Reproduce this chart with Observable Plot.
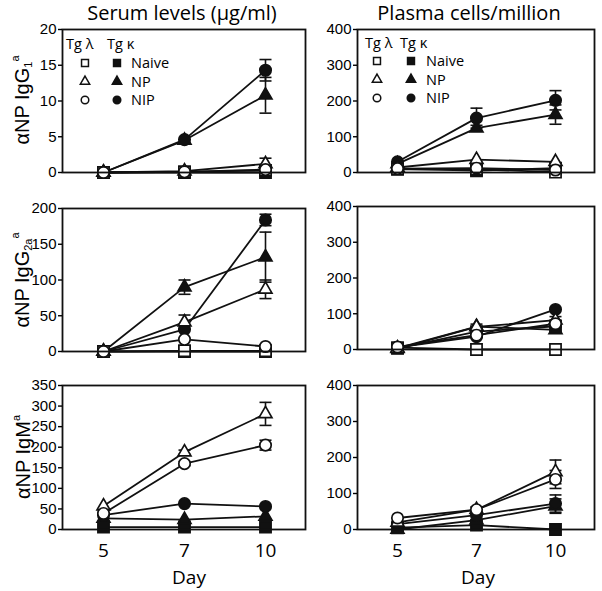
<!DOCTYPE html>
<html><head><meta charset="utf-8">
<script src="https://cdn.jsdelivr.net/npm/d3@7"></script>
<script src="https://cdn.jsdelivr.net/npm/@observablehq/plot@0.6"></script>
<style>
body{margin:0;background:#fff;}
#fig{position:relative;width:602px;height:591px;overflow:hidden;font-family:"Open Sans",sans-serif;color:#000;}
#fig svg{overflow:visible;}
.abs{position:absolute;white-space:nowrap;line-height:1;}
.c{transform:translate(-50%,-50%);}
.lv{transform:translateY(-50%);}
.rot{transform:translate(-50%,-50%) rotate(-90deg);font-family:"Liberation Sans",Arial,sans-serif;font-size:20px;}
.rot sub{font-size:11px;vertical-align:-3px;}
.rot sup{font-size:11px;vertical-align:10px;}
</style></head><body><div id="fig"></div>
<script>
// ---- data ----
const days = [5, 7, 10];
const groups = ["Tg λ Naive", "Tg λ NP", "Tg λ NIP", "Tg κ Naive", "Tg κ NP", "Tg κ NIP"];
const groupSymbol = ["square", "triangle", "circle", "square", "triangle", "circle"];
const groupFill = ["white", "white", "white", "#111", "#111", "#111"];
const strains = ["Tg λ", "Tg κ"];
const immunizations = ["Naive", "NP", "NIP"];

// values per group (rows in groups order), columns = days
const serumIgG1 = [[0, 0.1, 0.3], [0, 0.2, 1.2], [0, 0.1, 0.4], [0, 0, 0], [0, 4.5, 10.8], [0, 4.6, 14.3]];
const serumIgG1Err = [[0, 0, 0], [0, 0, 0.8], [0, 0, 0], [0, 0, 0], [0, 0, 2.5], [0, 0, 1.5]];
const plasmaIgG1 = [[9, 9, 1], [14, 36, 30], [11, 12, 7], [10, 5, 12], [24, 124, 162], [30, 152, 202]];
const plasmaIgG1Err = [[0, 0, 0], [0, 0, 0], [0, 0, 0], [0, 0, 0], [0, 8, 27], [0, 28, 27]];
const serumIgG2a = [[0, 1, 1], [0, 41, 87], [0, 17, 7], [0, 0, 0], [0, 90, 132], [0, 31, 184]];
const serumIgG2aErr = [[0, 0, 0], [0, 10, 13], [0, 0, 0], [0, 0, 0], [0, 10, 35], [0, 0, 8]];
const plasmaIgG2a = [[5, 0, 0], [2, 63, 82], [7, 40, 72], [3, 50, 65], [4, 64, 55], [6, 36, 112]];
const plasmaIgG2aErr = [[0, 0, 0], [0, 8, 10], [0, 0, 10], [0, 0, 0], [0, 0, 8], [0, 0, 0]];
const serumIgM = [[null, null, null], [57, 188, 281], [39, 160, 205], [6, 6, 6], [27, 24, 32], [35, 63, 56]];
const serumIgMErr = [[0, 0, 0], [0, 5, 28], [0, 5, 12], [0, 0, 0], [0, 0, 0], [0, 0, 0]];
const plasmaIgM = [[null, null, null], [20, 55, 160], [32, 55, 139], [5, 12, 0], [0, 26, 65], [15, 40, 72]];
const plasmaIgMErr = [[0, 0, 0], [0, 8, 33], [0, 6, 25], [0, 0, 0], [0, 0, 20], [0, 0, 24]];

const ticks20 = [0, 5, 10, 15, 20];
const ticks200 = [0, 50, 100, 150, 200];
const ticks350 = [0, 50, 100, 150, 200, 250, 300, 350];
const ticks400 = [0, 100, 200, 300, 400];

const titles = ["Serum levels (µg/ml)", "Plasma cells/million"];
const xLabel = "Day";

// ---- drawing ----
const fig = document.getElementById("fig");
const capSymbol = {draw(ctx) { ctx.moveTo(-6, 0); ctx.lineTo(6, 0); }};
const symR = {square: 6.3, triangle: 4.8, circle: 5.7};

function panel({vals, errs, yMax, ticks, fx, fy, fw, fh, xAxis}) {
  const mL = 40, mR = 4, mT = 8, mB = xAxis ? 45 : 8;
  const rows = [];
  groups.forEach((g, i) => days.forEach((d, j) => {
    if (vals[i][j] != null) rows.push({g: i, day: d, v: vals[i][j], e: errs[i][j]});
  }));
  const marks = [];
  groups.forEach((g, i) => marks.push(Plot.line(rows.filter(r => r.g === i), {x: "day", y: "v", stroke: "#111", strokeWidth: 1.8})));
  const er = rows.filter(r => r.e > 0);
  marks.push(Plot.ruleX(er, {x: "day", y1: r => r.v - r.e, y2: r => r.v + r.e, stroke: "#111", strokeWidth: 1.6}));
  marks.push(Plot.dot(er, {x: "day", y: r => r.v + r.e, symbol: capSymbol, r: 5, fill: "none", stroke: "#111", strokeWidth: 1.6}));
  marks.push(Plot.dot(er, {x: "day", y: r => r.v - r.e, symbol: capSymbol, r: 5, fill: "none", stroke: "#111", strokeWidth: 1.6}));
  [3, 4, 5, 0, 1, 2].forEach(i => marks.push(Plot.dot(rows.filter(r => r.g === i), {
    x: "day", y: "v", symbol: groupSymbol[i], r: symR[groupSymbol[i]],
    fill: groupFill[i], stroke: "#111", strokeWidth: 1.7
  })));
  marks.push(Plot.frame({stroke: "#111", strokeWidth: 1.8}));
  marks.push(Plot.axisY({ticks, tickSize: 4, tickPadding: 2, label: null, fontSize: 15, strokeWidth: 1.4}));
  if (xAxis) marks.push(Plot.axisX({tickSize: 0, tickPadding: 14, label: null, fontSize: 19, fontFamily: "Open Sans"}));
  const svg = Plot.plot({
    width: fw + mL + mR, height: fh + mT + mB,
    marginLeft: mL, marginRight: mR, marginTop: mT, marginBottom: mB,
    x: {type: "point", domain: days, padding: 0.5, axis: null},
    y: {domain: [0, yMax], axis: null},
    style: {fontFamily: "Liberation Sans, Arial, sans-serif", fontSize: "15px", color: "#000", background: "transparent", overflow: "visible"},
    marks
  });
  svg.style.position = "absolute";
  svg.style.left = (fx - mL) + "px";
  svg.style.top = (fy - mT) + "px";
  fig.appendChild(svg);
}

panel({vals: serumIgG1, errs: serumIgG1Err, yMax: 20, ticks: ticks20, fx: 62, fy: 29, fw: 243, fh: 143});
panel({vals: plasmaIgG1, errs: plasmaIgG1Err, yMax: 400, ticks: ticks400, fx: 357, fy: 29, fw: 237, fh: 143});
panel({vals: serumIgG2a, errs: serumIgG2aErr, yMax: 200, ticks: ticks200, fx: 62, fy: 208, fw: 243, fh: 143});
panel({vals: plasmaIgG2a, errs: plasmaIgG2aErr, yMax: 400, ticks: ticks400, fx: 357, fy: 206, fw: 237, fh: 143});
panel({vals: serumIgM, errs: serumIgMErr, yMax: 350, ticks: ticks350, fx: 62, fy: 385, fw: 243, fh: 144, xAxis: true});
panel({vals: plasmaIgM, errs: plasmaIgMErr, yMax: 400, ticks: ticks400, fx: 357, fy: 385, fw: 237, fh: 144, xAxis: true});

function addText(html, x, y, cls, style) {
  const d = document.createElement("div");
  d.className = "abs " + cls;
  d.innerHTML = html;
  d.style.left = x + "px"; d.style.top = y + "px";
  Object.assign(d.style, style || {});
  fig.appendChild(d);
}
addText(titles[0], 182, 13, "c", {fontSize: "20px"});
addText(titles[1], 469, 13, "c", {fontSize: "20px"});
addText("αNP IgG<sub>1</sub><sup>a</sup>", 22, 100, "rot");
addText("αNP IgG<sub>2a</sub><sup>a</sup>", 22, 280, "rot");
addText("αNP IgM<sup>a</sup>", 22, 457, "rot");
addText(xLabel, 189, 577, "c", {fontSize: "19px"});
addText(xLabel, 478, 577, "c", {fontSize: "19px"});

// legends
const ov = d3.select(fig).append("svg").attr("width", 602).attr("height", 591)
  .style("position", "absolute").style("left", "0px").style("top", "0px");
function legend(x0, xOpen, xFill, xLab, xK, y0, rowY) {
  addText(strains[0], x0, y0, "lv", {fontSize: "14.5px"});
  addText(strains[1], xK, y0, "lv", {fontSize: "14.5px"});
  immunizations.forEach((lab, k) => {
    const y = rowY[k];
    const t = groupSymbol[k];
    const sym = {square: d3.symbolSquare, triangle: d3.symbolTriangle, circle: d3.symbolCircle}[t];
    const size = {square: 48, triangle: 38, circle: 45}[t];
    ov.append("path").attr("d", d3.symbol(sym, size)()).attr("transform", `translate(${xOpen},${y})`)
      .attr("fill", groupFill[k]).attr("stroke", "#111").attr("stroke-width", 1.5);
    ov.append("path").attr("d", d3.symbol(sym, size)()).attr("transform", `translate(${xFill},${y})`)
      .attr("fill", groupFill[k + 3]).attr("stroke", "#111").attr("stroke-width", 1.5);
    addText(lab, xLab, y, "lv", {fontSize: "14.5px"});
  });
}
legend(66, 85, 117, 131, 107, 44, [63, 81.5, 100]);
legend(365, 377, 411, 426, 400, 43, [61, 79.5, 98]);
</script></body></html>
